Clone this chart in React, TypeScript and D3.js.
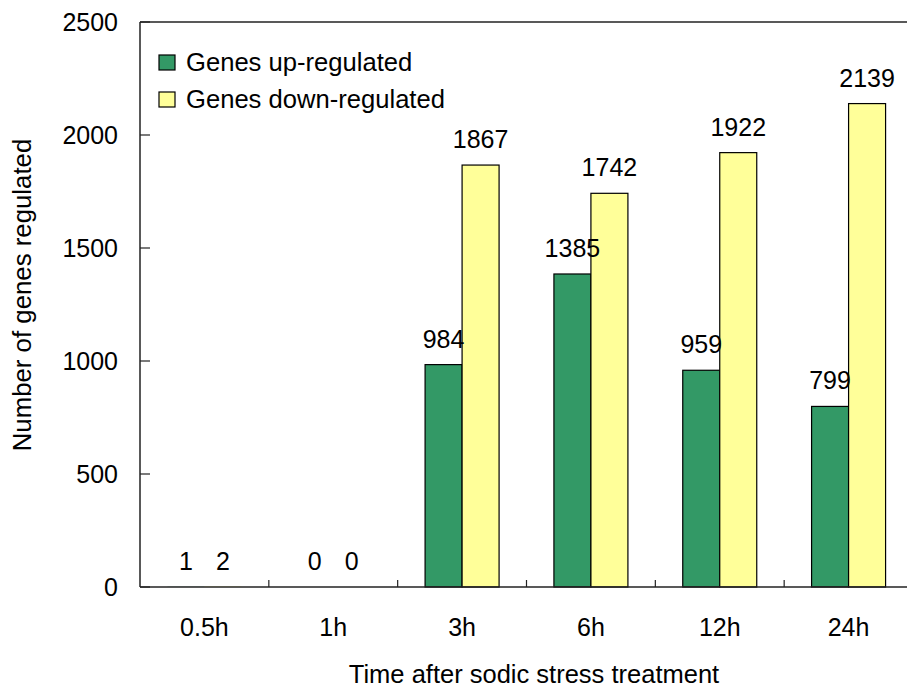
import React from "react";
import * as d3 from "d3";

const categories = ["0.5h", "1h", "3h", "6h", "12h", "24h"];
const seriesNames = ["Genes up-regulated", "Genes down-regulated"];
const upRegulated = [1, 0, 984, 1385, 959, 799];
const downRegulated = [2, 0, 1867, 1742, 1922, 2139];
const yTicks = [0, 500, 1000, 1500, 2000, 2500];
const colors = ["#339966", "#FFFF99"];

const W = 907;
const H = 690;
const left = 140;
const right = 913;
const top = 22;
const bottom = 587;
const font = "Arial, 'Liberation Sans', Helvetica, sans-serif";

export default function App() {
  const series = [upRegulated, downRegulated];
  const y = d3.scaleLinear().domain([0, 2500]).range([bottom, top]);
  const step = (right - left) / categories.length;
  const inner = 1 - 74 / step;
  const x0 = d3
    .scaleBand<string>()
    .domain(categories)
    .range([left, right])
    .paddingInner(inner)
    .paddingOuter(inner / 2);
  const x1 = d3
    .scaleBand<string>()
    .domain(seriesNames)
    .range([0, x0.bandwidth()]);
  const boundaries = d3.range(1, categories.length).map((i) => left + i * step);

  return (
    <svg
      width={W}
      height={H}
      style={{ position: "absolute", left: 0, top: 0, background: "#fff" }}
      fontFamily={font}
    >
      <rect x={0} y={0} width={W} height={H} fill="#fff" />
      {/* bars */}
      {series.map((vals, si) =>
        vals.map((v, ci) => {
          const h = bottom - y(v);
          return (
            <rect
              key={`b${si}-${ci}`}
              x={x0(categories[ci])! + x1(seriesNames[si])!}
              y={y(v)}
              width={x1.bandwidth()}
              height={h}
              fill={colors[si]}
              stroke={h > 1 ? "#000" : "none"}
              strokeWidth={1.2}
            />
          );
        })
      )}
      {/* value labels */}
      {series.map((vals, si) =>
        vals.map((v, ci) => (
          <text
            key={`l${si}-${ci}`}
            x={x0(categories[ci])! + x1(seriesNames[si])! + x1.bandwidth() / 2}
            y={y(v) - 17}
            textAnchor="middle"
            fontSize={25}
            fill="#000"
          >
            {v}
          </text>
        ))
      )}
      {/* frame */}
      <line x1={left} x2={left} y1={top} y2={bottom} stroke="#222" strokeWidth={1.5} />
      <line x1={left} x2={W} y1={bottom} y2={bottom} stroke="#222" strokeWidth={1.5} />
      <line x1={left} x2={W} y1={top} y2={top} stroke="#222" strokeWidth={1.5} />
      {/* y ticks */}
      {yTicks.map((t) => (
        <g key={`yt${t}`}>
          <line x1={left} x2={left + 10} y1={y(t)} y2={y(t)} stroke="#222" strokeWidth={1.2} />
          <text
            x={118}
            y={y(t)}
            dy="0.35em"
            textAnchor="end"
            fontSize={25}
            fill="#000"
          >
            {t}
          </text>
        </g>
      ))}
      {/* x ticks */}
      {boundaries.map((bx, i) => (
        <line key={`xt${i}`} x1={bx} x2={bx} y1={bottom} y2={bottom - 7} stroke="#222" strokeWidth={1.2} />
      ))}
      {categories.map((c) => (
        <text
          key={`xl${c}`}
          x={x0(c)! + x0.bandwidth() / 2}
          y={636}
          textAnchor="middle"
          fontSize={25}
          fill="#000"
        >
          {c}
        </text>
      ))}
      {/* axis titles */}
      <text x={534} y={683} textAnchor="middle" fontSize={25.5} fill="#000">
        Time after sodic stress treatment
      </text>
      <text
        transform={`translate(31,295) rotate(-90)`}
        textAnchor="middle"
        fontSize={25.8}
        fill="#000"
      >
        Number of genes regulated
      </text>
      {/* legend */}
      {seriesNames.map((s, i) => (
        <g key={`lg${i}`}>
          <rect
            x={159}
            y={55 + i * 37}
            width={16}
            height={15}
            fill={colors[i]}
            stroke="#000"
            strokeWidth={1.2}
          />
          <text x={186} y={71 + i * 37} fontSize={25.6} fill="#000">
            {s}
          </text>
        </g>
      ))}
    </svg>
  );
}
